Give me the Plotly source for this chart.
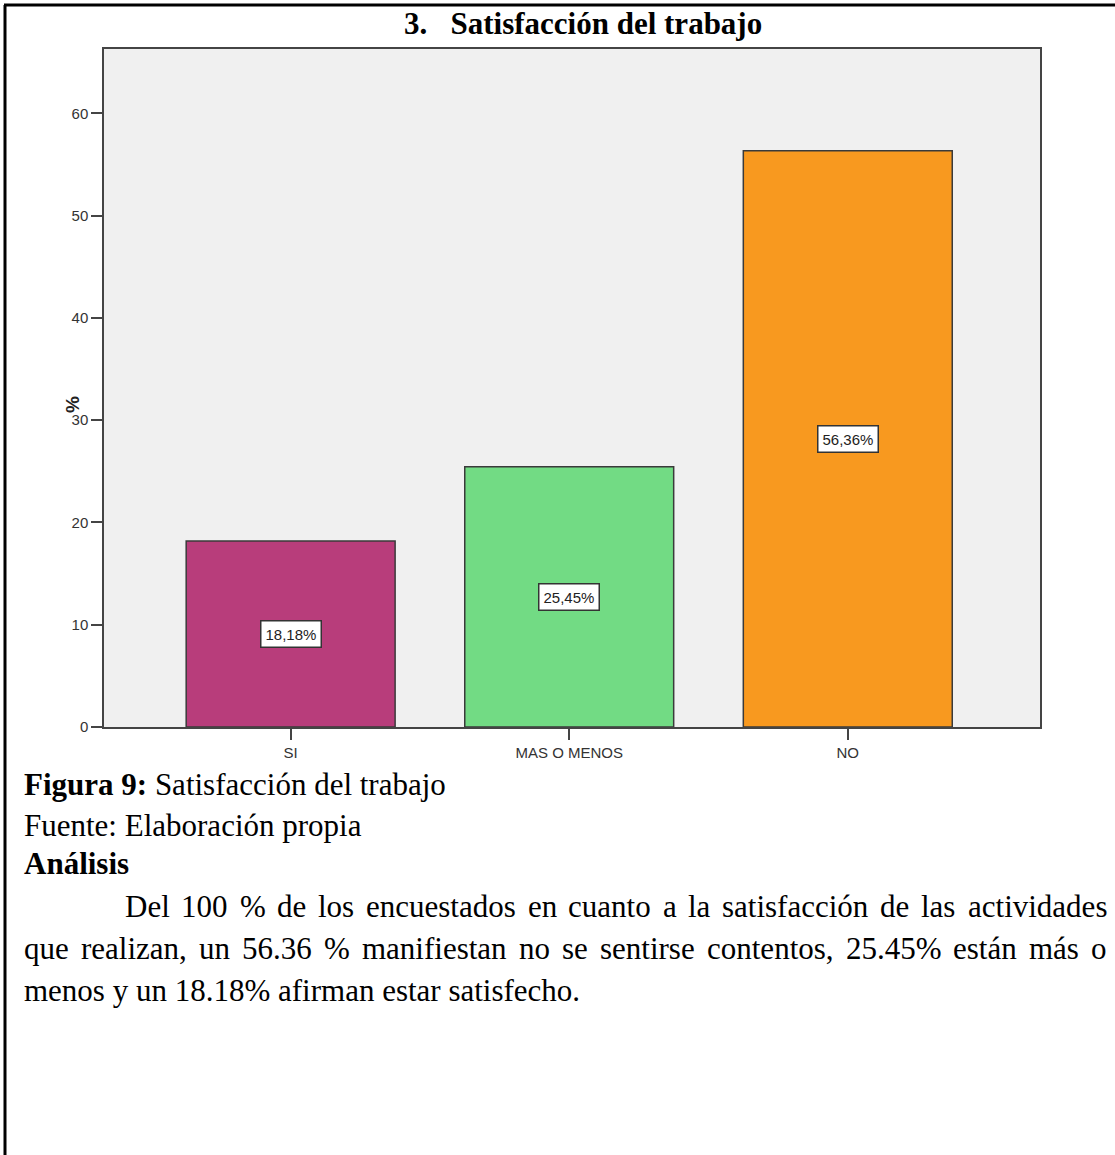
import plotly.graph_objects as go

# ---- data -------------------------------------------------------------
categories = ["SI", "MAS O MENOS", "NO"]
percentages = [18.18, 25.45, 56.36]
bar_labels = ["18,18%", "25,45%", "56,36%"]
bar_colors = ["#B83D7B", "#72DB84", "#F8991F"]
y_ticks = [0, 10, 20, 30, 40, 50, 60]

chart_title = "3.\u00a0\u00a0 Satisfacción del trabajo"
caption_label = "Figura 9:"
caption_text = "Satisfacción del trabajo"
source_text = "Fuente: Elaboración propia"
analysis_heading = "Análisis"
analysis_lines = [
    "Del 100 % de los encuestados en cuanto a la satisfacción de las actividades",
    "que realizan, un 56.36 % manifiestan no se sentirse contentos, 25.45% están más o",
    "menos y un 18.18% afirman estar satisfecho.",
]

# ---- page geometry (pixels) -------------------------------------------
W, H = 1115, 1155
L, R, T, B = 104, 75, 49, 428
PW, PH = W - L - R, H - T - B


def px(x):
    return (x - L) / PW


def py(y):
    return 1 - (y - T) / PH


SANS = "Liberation Sans, Arial, sans-serif"
SERIF = "Liberation Serif, Times New Roman, serif"
TXT = 31

# Times-compatible advance widths (1/1000 em) used to justify paragraph lines
_W = {" ": 250, "%": 833, ",": 250, ".": 250, ":": 278, "D": 722}
_W.update({d: 500 for d in "0123456789"})
_W.update(dict(a=444, b=500, c=444, d=500, e=444, f=333, g=500, h=500, i=278,
               j=278, k=500, l=278, m=778, n=500, o=500, p=500, q=500, r=333,
               s=389, t=278, u=500, v=500, w=722, x=500, y=500, z=444))
_W.update({"á": 444, "ó": 500, "í": 278, "é": 444})


def text_width(s, size):
    return sum(_W.get(ch, 500) for ch in s) * size / 1000.0


fig = go.Figure()
fig.add_trace(
    go.Bar(
        x=list(range(len(categories))),
        y=percentages,
        width=0.75,
        marker=dict(color=bar_colors, line=dict(color="#3a3a3a", width=1.5)),
        hoverinfo="skip",
    )
)

annotations = []
# value boxes in the middle of each bar
for i, (v, lab) in enumerate(zip(percentages, bar_labels)):
    annotations.append(
        dict(
            x=i, y=v / 2, xref="x", yref="y", text=lab, showarrow=False,
            bgcolor="white", bordercolor="#333333", borderwidth=1.5, borderpad=4,
            font=dict(family=SANS, size=15, color="#222222"),
        )
    )

# y-axis title
annotations.append(
    dict(x=px(72), y=py(405), xref="paper", yref="paper", text="<b>%</b>",
         showarrow=False, textangle=-90, xanchor="center", yanchor="middle",
         font=dict(family=SANS, size=19, color="#222222"))
)

# heading above the chart
annotations.append(
    dict(x=px(583), y=py(23), xref="paper", yref="paper",
         text="<b>" + chart_title + "</b>", showarrow=False,
         xanchor="center", yanchor="middle",
         font=dict(family=SERIF, size=31, color="black"))
)


def add_text(x0, y0, t):
    annotations.append(
        dict(x=px(x0), y=py(y0), xref="paper", yref="paper", text=t,
             showarrow=False, xanchor="left", yanchor="middle",
             font=dict(family=SERIF, size=TXT, color="black"))
    )


def add_justified(x0, x1, y0, line):
    words = line.split(" ")
    widths = [text_width(w, TXT) for w in words]
    gap = (x1 - x0 - sum(widths)) / (len(words) - 1)
    x = x0
    for w, wd in zip(words, widths):
        add_text(x, y0, w)
        x += wd + gap


# caption and analysis text below the chart
add_text(22, 784, "<b>" + caption_label + "</b> " + caption_text)
add_text(22, 825, source_text)
add_text(22, 864, "<b>" + analysis_heading + "</b>")
add_justified(123, 1105, 906, analysis_lines[0])
add_justified(22, 1105, 948, analysis_lines[1])
add_text(22, 990, analysis_lines[2])

# page frame lines (top and left)
shapes = [
    dict(type="line", xref="paper", yref="paper", x0=px(4), x1=px(1115),
         y0=py(5), y1=py(5), line=dict(color="black", width=3)),
    dict(type="line", xref="paper", yref="paper", x0=px(5), x1=px(5),
         y0=py(5), y1=py(1155), line=dict(color="black", width=3)),
]

axis_common = dict(
    showline=True, mirror=True, linecolor="#444444", linewidth=1.5,
    ticks="outside", ticklen=11, tickcolor="#444444", tickwidth=1.5,
    showgrid=False, zeroline=False,
    tickfont=dict(family=SANS, size=15, color="#333333"),
)

fig.update_layout(
    width=W, height=H,
    margin=dict(l=L, r=R, t=T, b=B, pad=0),
    paper_bgcolor="white",
    plot_bgcolor="#F0F0F0",
    showlegend=False,
    annotations=annotations,
    shapes=shapes,
    xaxis=dict(range=[-0.67, 2.69], tickvals=list(range(len(categories))),
               ticktext=categories, **axis_common),
    yaxis=dict(range=[0, 66.3], tickvals=y_ticks, **axis_common),
)

fig.write_html("out.html")
